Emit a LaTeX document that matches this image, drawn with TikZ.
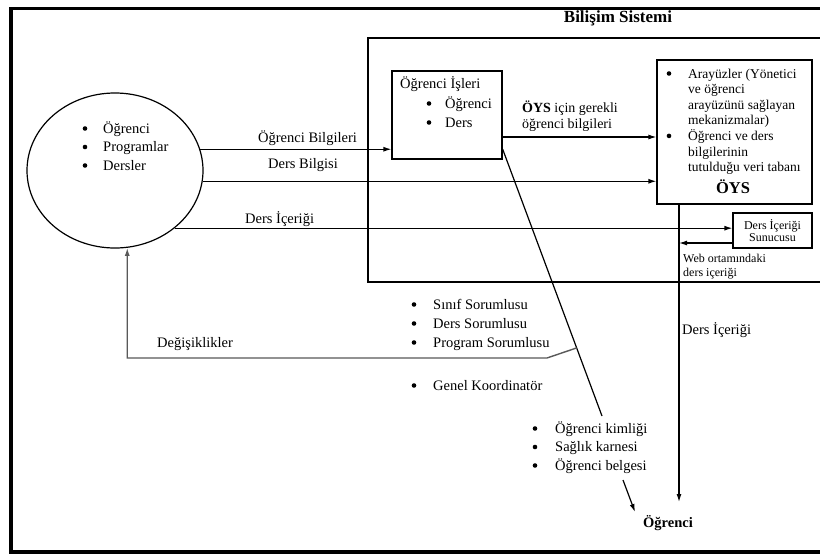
\documentclass[tikz,border=0pt]{standalone}
\usepackage{fontspec}
\setmainfont{Liberation Serif}
\usetikzlibrary{arrows.meta,shapes.geometric,calc}
\newcommand{\fs}[2]{\fontsize{#1}{#2}\selectfont}
\newcommand{\dotb}{\tikz[baseline=0pt]\fill (0pt,4.5pt) circle (2.3pt);}
\newcommand{\bl}[1]{\makebox[#1][l]{\hspace{1.5pt}\dotb}}
\begin{document}
\begin{tikzpicture}[x=1pt,y=-1pt,
  box/.style={draw, line width=1.2pt, inner sep=0pt},
  conn/.style={line width=1.2pt, -{Latex[length=8pt,width=5pt]}},
  plain/.style={line width=1.2pt},
  txt/.style={inner sep=0pt, anchor=base west, font=\fs{14.5}{18.5}},
]
\useasboundingbox (0,0) rectangle (820,554);
\clip (0,0) rectangle (820,554);
\fill[white] (0,0) rectangle (820,554);
% outer frame and system box
\draw[line width=3.5pt] (11,8.5) rectangle (900,552);
\node[draw, line width=2.5pt, minimum width=532pt, minimum height=244pt, inner sep=0pt] (sys) at (634,160) {};
\node[anchor=base, inner sep=0pt, font=\bfseries\fs{17}{17}] (title) at (618,23) {Bilişim Sistemi};

% ellipse
\node[draw, ellipse, line width=1.2pt, minimum width=176pt, minimum height=155pt, inner sep=0pt] (ent) at (115,170.5) {};
\node[txt] (elist) at (81,133) {\begin{tabular}[t]{@{}l@{}}\bl{22pt}Öğrenci\\ \bl{22pt}Programlar\\ \bl{22pt}Dersler\end{tabular}};

% boxes
\node[box, minimum width=110pt, minimum height=88pt] (oi) at (447,115) {};
\node[txt] (oititle) at (400,88) {Öğrenci İşleri};
\node[txt, font=\fs{14.5}{19}] (oilist) at (425,108) {\begin{tabular}[t]{@{}l@{}}\bl{20pt}Öğrenci\\ \bl{20pt}Ders\end{tabular}};

\node[box, minimum width=155pt, minimum height=144pt] (oys) at (734.5,132) {};
\node[txt, font=\fs{13.5}{15.6}] (oyslist) at (665,78) {\begin{tabular}[t]{@{}l@{}l@{}}\bl{23pt}&Arayüzler (Yönetici\\ &ve öğrenci\\ &arayüzünü sağlayan\\ &mekanizmalar)\\ \bl{23pt}&Öğrenci ve ders\\ &bilgilerinin\\ &tutulduğu veri tabanı\end{tabular}};
\node[anchor=base, inner sep=0pt, font=\bfseries\fs{16.5}{16.5}] (oysname) at (733,193) {ÖYS};

\node[box, minimum width=79pt, minimum height=35pt, align=center, font=\fs{12}{12}] (srv) at (772.5,230.5) {Ders İçeriği\\Sunucusu};

% connectors from the ellipse
\draw[conn] (ent.14) -- (ent.14 -| oi.west);
\node[txt] (l1) at (258,142) {Öğrenci Bilgileri};
\draw[conn] (ent.-7) -- (ent.-7 -| oys.west);
\node[txt] (l2) at (268,168) {Ders Bilgisi};
\draw[conn] (ent.-44) -- (ent.-44 -| srv.west);
\node[txt] (l3) at (245,223) {Ders İçeriği};

% Ogrenci Isleri -> OYS
\draw[conn] ([yshift=-22pt]oi.east) -- ([yshift=-22pt]oi.east -| oys.west);
\node[txt, font=\fs{14}{16}] (l4) at (522,112) {\begin{tabular}[t]{@{}l@{}}\textbf{ÖYS} için gerekli\\ öğrenci bilgileri\end{tabular}};

% OYS down to Ogrenci
\coordinate (vtop) at ([xshift=-55.5pt]oys.south);
\coordinate (vend) at (679,502);
\draw[conn] (vtop) -- (vend);
\node[txt] (l5) at (682,334) {Ders İçeriği};

% server -> vertical line
\draw[conn] ([yshift=-12.5pt]srv.west) -- ([yshift=-12.5pt]srv.west -| vtop);
\node[txt, font=\fs{12}{14}] (l6) at (683,262) {\begin{tabular}[t]{@{}l@{}}Web ortamındaki\\ ders içeriği\end{tabular}};

% diagonal from Ogrenci Isleri to Ogrenci
\coordinate (d0) at ([yshift=-34pt]oi.east);
\coordinate (d1) at (602,416);
\coordinate (d2) at (623,480);
\coordinate (d3) at (635,512);
\draw[plain] (d0) -- (d1);
\draw[conn] (d2) -- (d3);
\coordinate (dj) at ($(d0)!0.745!(d1)$);
\coordinate (dk) at (547,358);

% Degisiklikler
\draw[line width=1.4pt, black!65, -{Latex[length=8pt,width=5pt]}] (dj) -- (dk) -- (dk -| ent.-81) -- (ent.-81);
\node[txt] (l7) at (157,347) {Değişiklikler};

% lists
\node[txt, font=\fs{14.5}{19}] (slist) at (410,309) {\begin{tabular}[t]{@{}l@{}}\bl{23pt}Sınıf Sorumlusu\\ \bl{23pt}Ders Sorumlusu\\ \bl{23pt}Program Sorumlusu\end{tabular}};
\node[txt] (genel) at (410,390) {\bl{23pt}Genel Koordinatör};
\node[txt] (klist) at (531,433) {\begin{tabular}[t]{@{}l@{}}\bl{24pt}Öğrenci kimliği\\ \bl{24pt}Sağlık karnesi\\ \bl{24pt}Öğrenci belgesi\end{tabular}};

\node[txt, font=\bfseries\fs{14.5}{14.5}] (ogr) at (643,527) {Öğrenci};
\end{tikzpicture}
\end{document}
